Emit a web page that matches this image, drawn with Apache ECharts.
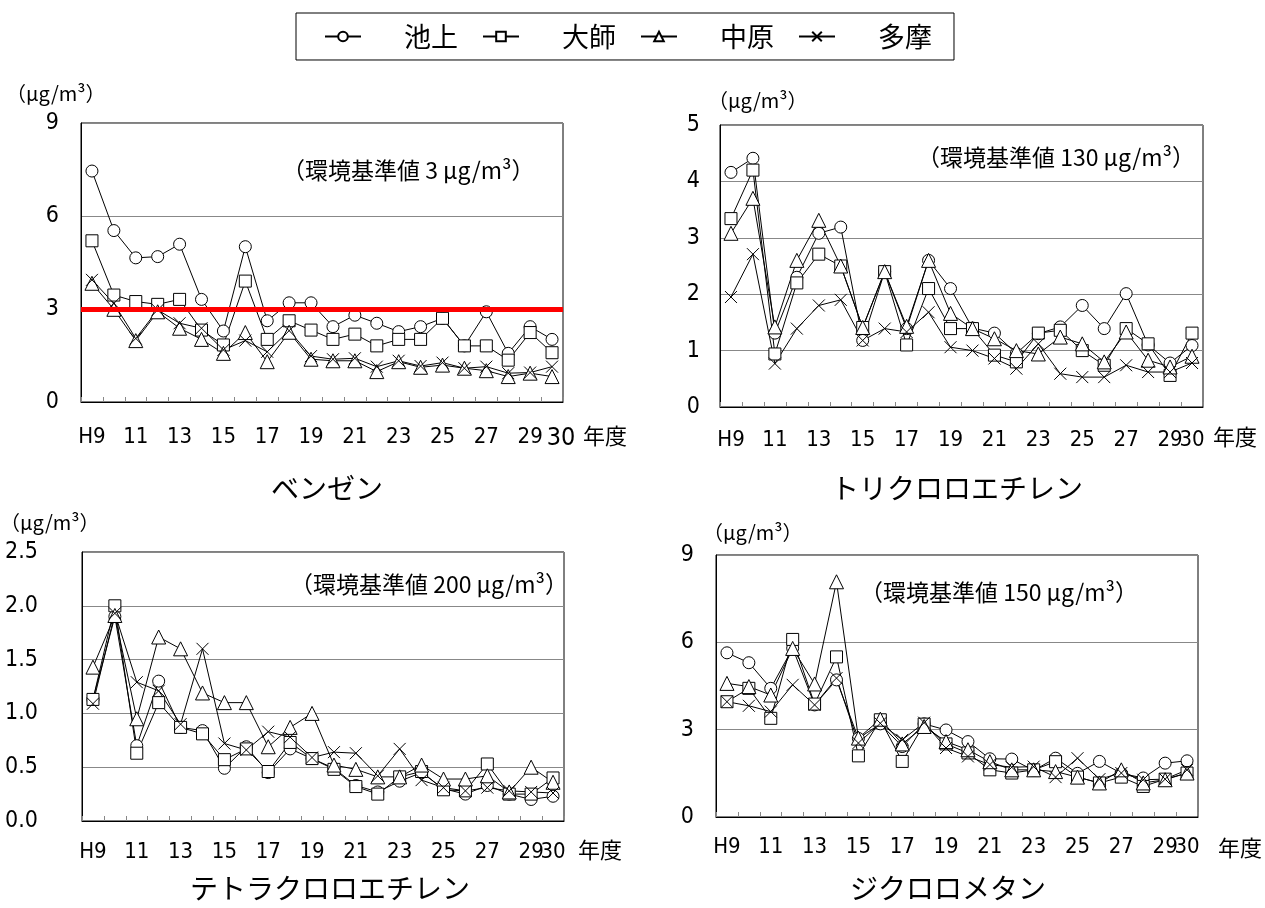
<!DOCTYPE html>
<html><head><meta charset="utf-8">
<script src="https://cdn.jsdelivr.net/npm/echarts@6/dist/echarts.min.js"></script>
<style>html,body{margin:0;padding:0;background:#fff}#c{width:1265px;height:908px}</style>
</head><body><div id="c"></div>
<script>
const years = ['H9','10','11','12','13','14','15','16','17','18','19','20','21','22','23','24','25','26','27','28','29','30'];
const stations = ['池上','大師','中原','多摩'];

const benzeneIkegami  = [7.45,5.53,4.65,4.69,5.09,3.31,2.29,5.01,2.62,3.2,3.2,2.43,2.8,2.54,2.27,2.43,2.7,1.81,2.91,1.57,2.43,2.02];
const benzeneDaishi   = [5.2,3.45,3.24,3.15,3.31,2.32,1.84,3.9,2.02,2.62,2.32,2.02,2.19,1.81,2.02,2.02,2.7,1.81,1.81,1.35,2.24,1.59];
const benzeneNakahara = [3.83,2.99,1.98,2.91,2.38,2.02,1.57,2.24,1.3,2.25,1.38,1.33,1.33,0.98,1.3,1.12,1.19,1.09,1.01,0.82,0.93,0.82];
const benzeneTama     = [3.94,3.18,2.05,2.97,2.54,2.38,1.68,1.98,1.62,2.3,1.48,1.38,1.41,1.14,1.33,1.16,1.27,1.09,1.14,0.93,0.95,1.14];

const tceIkegami  = [4.16,4.41,1.31,2.3,3.08,3.19,1.18,2.4,1.39,2.6,2.1,1.4,1.31,0.95,1.3,1.42,1.8,1.39,2.01,1.1,0.78,1.09];
const tceDaishi   = [3.34,4.2,0.94,2.2,2.71,2.5,1.41,2.4,1.1,2.1,1.39,1.39,0.92,0.8,1.31,1.36,1.0,0.74,1.39,1.12,0.56,1.31];
const tceNakahara = [3.08,3.7,1.42,2.6,3.31,2.5,1.41,2.4,1.43,2.6,1.66,1.39,1.21,1.0,0.94,1.24,1.12,0.8,1.33,0.83,0.71,0.9];
const tceTama     = [1.95,2.71,0.77,1.39,1.8,1.9,1.18,1.39,1.33,1.68,1.06,1.0,0.86,0.68,1.12,0.59,0.53,0.53,0.74,0.62,0.62,0.78];

const pceIkegami  = [1.13,1.9,0.7,1.3,0.87,0.84,0.49,0.69,0.45,0.67,0.58,0.49,0.33,0.27,0.37,0.45,0.3,0.25,0.33,0.25,0.2,0.23];
const pceDaishi   = [1.13,2.0,0.63,1.1,0.87,0.81,0.57,0.67,0.46,0.73,0.58,0.48,0.32,0.25,0.41,0.46,0.29,0.28,0.53,0.25,0.25,0.4];
const pceNakahara = [1.43,1.91,0.95,1.71,1.6,1.19,1.1,1.1,0.69,0.87,1.0,0.52,0.48,0.41,0.41,0.52,0.39,0.39,0.42,0.27,0.5,0.36];
const pceTama     = [1.09,1.93,1.29,1.21,0.9,1.6,0.72,0.66,0.83,0.78,0.59,0.64,0.63,0.42,0.67,0.38,0.31,0.28,0.31,0.28,0.27,0.26];

const dcmIkegami  = [5.64,5.3,4.42,5.8,3.85,4.71,2.7,3.2,2.42,3.2,2.99,2.59,2.0,1.99,1.6,2.02,1.5,1.91,1.5,1.34,1.85,1.93];
const dcmDaishi   = [3.96,4.42,3.39,6.1,3.88,5.5,2.1,3.34,1.91,3.19,2.51,2.2,1.62,1.51,1.62,1.9,1.37,1.17,1.37,1.05,1.3,1.51];
const dcmNakahara = [4.59,4.48,4.19,5.79,4.57,8.08,2.71,3.36,2.51,3.11,2.59,2.31,1.9,1.62,1.62,1.56,1.37,1.17,1.62,1.17,1.28,1.51];
const dcmTama     = [3.96,3.82,3.62,4.54,3.85,4.77,2.54,3.22,2.65,3.24,2.37,2.08,1.8,1.71,1.73,1.37,2.02,1.3,1.51,1.28,1.3,1.62];

const panelTitles = ['ベンゼン','トリクロロエチレン','テトラクロロエチレン','ジクロロメタン'];
const standards = ['（環境基準値 3 μg/m³）','（環境基準値 130 μg/m³）','（環境基準値 200 μg/m³）','（環境基準値 150 μg/m³）'];
const unitLabel = '（μg/m³）';
const yearUnit = '年度';
const benzeneStandard = 3;

const panelData = [
  [benzeneIkegami, benzeneDaishi, benzeneNakahara, benzeneTama],
  [tceIkegami, tceDaishi, tceNakahara, tceTama],
  [pceIkegami, pceDaishi, pceNakahara, pceTama],
  [dcmIkegami, dcmDaishi, dcmNakahara, dcmTama]
];
const yRanges = [[0,9,3],[0,5,1],[0,2.5,0.5],[0,9,3]];

const NUM_FONT = "'Liberation Sans Narrow','DejaVu Sans Condensed','Noto Sans CJK JP',sans-serif";
const JP_FONT = "'Noto Sans CJK JP',sans-serif";
const XPATH = 'path://M0,0L10,10M10,0L0,10';
const symbols = ['circle','rect','triangle',XPATH];
const symSizes = [12,12,14,12];

const grids = [
  {left:81, top:123, width:482, height:279},
  {left:720, top:125, width:483, height:282},
  {left:82, top:552, width:482, height:269},
  {left:716, top:555, width:482, height:262}
];
const xMargins = [24,22,20,19];
const yMargins = [22,20,44,22];

const option = {
  animation:false,
  backgroundColor:'#fff',
  legend:{
    left:296, top:13,
    data:stations,
    itemWidth:36, itemHeight:12, itemGap:24,
    padding:[10,22,10,28],
    borderColor:'#000', borderWidth:1,
    textStyle:{fontFamily:JP_FONT, fontSize:27, color:'#000', padding:[0,0,0,38]},
    selectedMode:false
  },
  grid:[], xAxis:[], yAxis:[], series:[], graphic:[]
};

grids.forEach((g,i)=>{
  option.grid.push(Object.assign({show:true, borderColor:'#000', borderWidth:1, backgroundColor:'#fff'}, g));
  const last = years.length-1;
  option.xAxis.push({
    type:'category', gridIndex:i, data:years, boundaryGap:true,
    axisLine:{lineStyle:{color:'#000', width:1}},
    axisTick:{show:true, inside:true, length:5, interval:0, lineStyle:{color:'#888'}},
    axisLabel:{
      interval:0, showMaxLabel:true, hideOverlap:false,
      margin:xMargins[i], fontFamily:NUM_FONT, fontSize:22, color:'#000',
      formatter:(v, idx)=>{
        if(idx===last) return i===0 ? '{b|'+v+'}' : v;
        return idx%2===0 ? v : '';
      },
      rich:{b:{fontFamily:NUM_FONT, fontSize:25, color:'#000', padding:[0,0,4,18]}}
    }
  });
  const r = yRanges[i];
  option.yAxis.push({
    type:'value', gridIndex:i, min:r[0], max:r[1], interval:r[2],
    axisLine:{show:true, lineStyle:{color:'#000'}},
    axisTick:{show:false},
    splitLine:{show:true, lineStyle:{color:'#888', width:1}},
    axisLabel:{margin:yMargins[i], fontFamily:NUM_FONT, fontSize:23, color:'#000',
      formatter:(v)=> i===2 ? v.toFixed(1) : String(v)}
  });
  panelData[i].forEach((arr,s)=>{
    const ser = {
      name:stations[s], type:'line', xAxisIndex:i, yAxisIndex:i, data:arr,
      symbol:symbols[s], symbolSize:symSizes[s], showAllSymbol:true,
      lineStyle:{color:'#000', width:1},
      itemStyle:{color: s===3 ? 'rgba(255,255,255,0)' : '#fff', borderColor:'#000', borderWidth:1},
      emphasis:{disabled:true}
    };
    if(i===0 && s===3){
      ser.markLine = {silent:true, symbol:['none','none'], label:{show:false},
        lineStyle:{color:'#ff0000', width:5, type:'solid'}, data:[{yAxis:benzeneStandard}]};
    }
    option.series.push(ser);
  });
});

const titlePos = [[327,488],[957,488],[330,888],[948,888]];
const stdPos = [[282,170],[917,157],[290,584],[860,592]];
const unitPos = [[6,93],[708,100],[0,522],[703,532]];
const yearPos = [[583,436],[1213,437],[578,850],[1218,848]];
for(let i=0;i<4;i++){
  option.graphic.push({type:'text', x:titlePos[i][0], y:titlePos[i][1], style:{text:panelTitles[i], font:"28px "+JP_FONT, fill:'#000', textAlign:'center', textVerticalAlign:'middle'}});
  option.graphic.push({type:'text', x:stdPos[i][0], y:stdPos[i][1], style:{text:standards[i], font:"23px "+JP_FONT, fill:'#000', textAlign:'left', textVerticalAlign:'middle'}});
  option.graphic.push({type:'text', x:unitPos[i][0], y:unitPos[i][1], style:{text:unitLabel, font:"20px "+JP_FONT, fill:'#000', textAlign:'left', textVerticalAlign:'middle'}});
  option.graphic.push({type:'text', x:yearPos[i][0], y:yearPos[i][1], style:{text:yearUnit, font:"22px "+JP_FONT, fill:'#000', textAlign:'left', textVerticalAlign:'middle'}});
}

const chart = echarts.init(document.getElementById('c'), null, {renderer:'canvas'});
chart.setOption(option);
</script></body></html>
